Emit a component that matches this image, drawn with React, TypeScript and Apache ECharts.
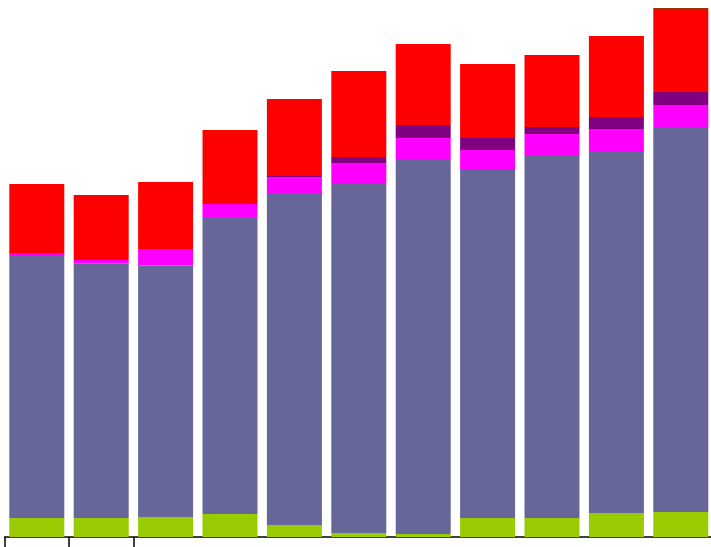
import React, { useEffect, useRef } from "react";
import * as echarts from "echarts";

const categories = ["1", "2", "3", "4", "5", "6", "7", "8", "9", "10", "11"];
const greenValues = [19, 19, 20, 23, 12, 4, 3, 19, 19, 24, 25];
const slateValues = [262, 254.7, 251.7, 297, 332, 349, 374, 348, 363, 362, 385];
const magentaValues = [2.3, 3.3, 16.3, 13, 16, 21, 22, 20, 21, 22, 22];
const purpleValues = [0.7, 0, 0, 0, 1, 6, 13, 12, 7, 12, 13];
const redValues = [69, 65, 67, 74, 77, 86, 81, 74, 72, 81, 82];
const brownValues = [0, 0, 0, 0, 0, 0, 0, 0, 0, 0, 2];

const seriesDefs = [
  { name: "A", data: greenValues, color: "#99cc00" },
  { name: "B", data: slateValues, color: "#666699" },
  { name: "C", data: magentaValues, color: "#ff00ff" },
  { name: "D", data: purpleValues, color: "#800080" },
  { name: "E", data: redValues, color: "#ff0000" },
  { name: "F", data: brownValues, color: "#993300" },
];

export default function App() {
  const ref = useRef<HTMLDivElement>(null);
  useEffect(() => {
    if (!ref.current) return;
    const chart = echarts.init(ref.current, null, { renderer: "svg" });
    chart.setOption({
      animation: false,
      grid: { left: 4.6, right: 0, top: 0, bottom: 10, containLabel: false },
      xAxis: {
        type: "category",
        data: categories,
        boundaryGap: true,
        axisLine: { show: true, lineStyle: { color: "#000", width: 1.5 } },
        axisTick: {
          show: true,
          length: 12,
          interval: (index: number) => index < 3,
          lineStyle: { color: "#000", width: 1.5 },
        },
        axisLabel: { show: false },
        splitLine: { show: false },
      },
      yAxis: {
        type: "value",
        min: 0,
        max: 537,
        show: false,
        splitLine: { show: false },
      },
      series: seriesDefs.map((s) => ({
        name: s.name,
        type: "bar",
        stack: "total",
        data: s.data,
        barCategoryGap: "14.6%",
        itemStyle: { color: s.color },
      })),
    });
    return () => chart.dispose();
  }, []);
  return (
    <div
      ref={ref}
      style={{ position: "fixed", left: 0, top: 0, width: 713, height: 547 }}
    />
  );
}
